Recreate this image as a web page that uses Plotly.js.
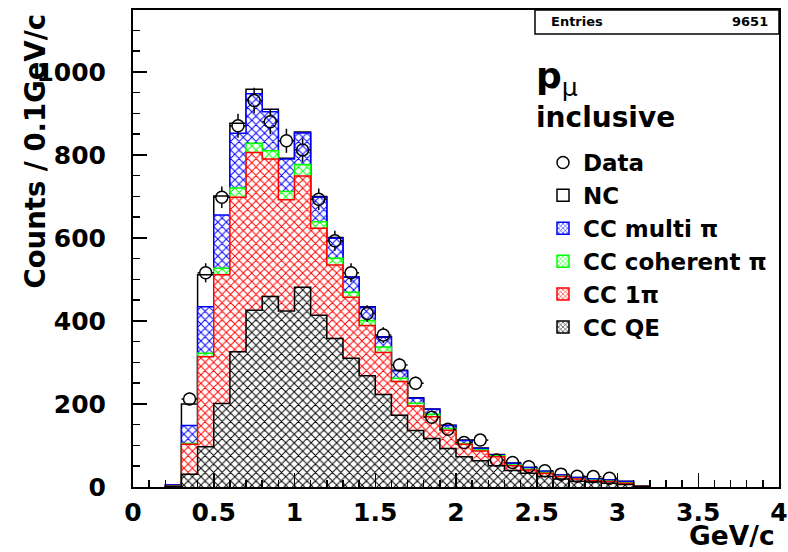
<!DOCTYPE html>
<html><head><meta charset="utf-8">
<script src="https://cdn.plot.ly/plotly-3.0.1.min.js"></script>
<style>body{margin:0;background:#fff;}</style>
</head><body>
<div id="chart" style="width:788px;height:552px;"></div>
<script>
// ---- data (bin lower edges, width 0.1 GeV/c) ----
const binLow = [0.2,0.3,0.4,0.5,0.6,0.7,0.8,0.9,1.0,1.1,1.2,1.3,1.4,1.5,1.6,1.7,1.8,1.9,2.0,2.1,2.2,2.3,2.4,2.5,2.6,2.7,2.8,2.9,3.0,3.1];
const ccQE      = [1,31,97,201,326,426,459,424,481,414,358,310,268,223,173,136,117,93,73,63,51,40,33,25,19,14,12,9,6,1];
const cc1pi     = [1,72,217,310,372,380,331,268,268,209,177,147,121,101,81,59,52,44,30,24,22,11,8,8,6,5,3,4,3,1];
const ccCohPi   = [0,2,8,16,22,22,20,20,28,16,16,12,12,13,8,7,6,4,2,2,2,2,2,2,1,1,1,1,1,0];
const ccMultiPi = [3,43,112,128,132,119,94,78,76,59,48,36,32,24,18,12,12,7,7,4,2,4,4,3,3,3,3,3,3,1];
const nc        = [0,52,77,46,24,11,6,2,2,2,2,1,1,1,1,1,1,1,1,1,1,1,0,0,0,0,0,0,1,0];

const dataX   = [0.35,0.45,0.55,0.65,0.75,0.85,0.95,1.05,1.15,1.25,1.35,1.45,1.55,1.65,1.75,1.85,1.95,2.05,2.15,2.25,2.35,2.45,2.55,2.65,2.75,2.85,2.95];
const dataY   = [212,516,698,870,931,880,834,812,693,593,516,418,366,294,250,168,139,107,113,65,59,49,39,31,26,25,21];
const dataErr = [15,23,26,29,31,30,29,28,26,24,23,20,19,17,16,13,12,10,11,8,8,7,6,6,5,5,5];

const entries = '9651';
const binWidth = 0.1;

// ---- layout geometry ----
const M = {l:133, r:9, t:10, b:65};
const W = 788, H = 552;
const xRange = [0,4], yRange = [0,1149];
const plotW = W - M.l - M.r, plotH = H - M.t - M.b;
const FONT = 'DejaVu Sans, Liberation Sans, Arial, sans-serif';

// cumulative stacks
function cum(...arrs){ return arrs[0].map((_,i)=>arrs.reduce((s,a)=>s+a[i],0)); }
const sQE    = cum(ccQE);
const s1pi   = cum(ccQE, cc1pi);
const sCoh   = cum(ccQE, cc1pi, ccCohPi);
const sMulti = cum(ccQE, cc1pi, ccCohPi, ccMultiPi);
const sNC    = cum(ccQE, cc1pi, ccCohPi, ccMultiPi, nc);

function stepTrace(vals, lineColor, patColor){
  const n = binLow.length;
  const xs = [binLow[0]], ys = [0];
  for (let i=0;i<n;i++){ xs.push(binLow[i]); ys.push(vals[i]); }
  const xEnd = binLow[n-1] + binWidth;
  xs.push(xEnd); ys.push(vals[n-1]);
  xs.push(xEnd); ys.push(0);
  const t = {
    type:'scatter', mode:'lines', x:xs, y:ys,
    line:{shape:'hv', color:lineColor, width:1.5},
    fill:'tozeroy', fillcolor:'white', showlegend:false, hoverinfo:'skip'
  };
  if (patColor) t.fillpattern = {shape:'x', fgcolor:patColor, bgcolor:'white', size:6, solidity:0.3};
  return t;
}

const traces = [
  stepTrace(sNC, 'black', null),
  stepTrace(sMulti, '#0000ff', '#0000ff'),
  stepTrace(sCoh, '#00ff00', '#00ff00'),
  stepTrace(s1pi, '#ff0000', '#ff0000'),
  stepTrace(sQE, 'black', 'black')
];

// error bars with a gap for the open marker (ROOT style)
const rPx = 6;
const rx = rPx*(xRange[1]-xRange[0])/plotW;
const ry = rPx*(yRange[1]-yRange[0])/plotH;
const ex=[], ey=[];
dataX.forEach((x,i)=>{
  const y = dataY[i], e = dataErr[i];
  if (e > ry){ ex.push(x,x,null,x,x,null); ey.push(y+ry,y+e,null,y-ry,y-e,null); }
  ex.push(x-binWidth/2, x-rx, null, x+rx, x+binWidth/2, null);
  ey.push(y,y,null,y,y,null);
});
traces.push({type:'scatter', mode:'lines', x:ex, y:ey, line:{color:'black', width:1.5},
  showlegend:false, hoverinfo:'skip'});
traces.push({type:'scatter', mode:'markers', name:'Data', x:dataX, y:dataY, legendrank:1,
  marker:{symbol:'circle-open', size:12, color:'black', line:{width:1.5}}});

// legend entries
const legendItems = [
  ['NC','black','white',null],
  ['CC multi π','#0000ff','white','#0000ff'],
  ['CC coherent π','#00ff00','white','#00ff00'],
  ['CC 1π','#ff0000','white','#ff0000'],
  ['CC QE','black','white','black']
];
legendItems.forEach((it,k)=>{
  const m = {color:it[2], line:{color:it[1], width:1.5}};
  if (it[3]) m.pattern = {shape:'x', fgcolor:it[3], bgcolor:'white', size:4, solidity:0.3};
  traces.push({type:'bar', name:it[0], x:[null], y:[null], marker:m, legendrank:k+2});
});

function px2paperX(px){ return (px - M.l)/plotW; }
function px2paperY(py){ return (H - M.b - py)/plotH; }

const axisCommon = {
  showline:true, linewidth:2, linecolor:'black', mirror:true,
  ticks:'inside', ticklen:14, tickwidth:1.5, tickcolor:'black',
  showgrid:false, zeroline:false,
  tickfont:{family:FONT, size:25, color:'black', weight:'bold'}
};

const layout = {
  width:W, height:H, margin:M,
  paper_bgcolor:'white', plot_bgcolor:'white',
  showlegend:true,
  legend:{x:px2paperX(543), y:px2paperY(141), xanchor:'left', yanchor:'top',
    bgcolor:'rgba(0,0,0,0)', borderwidth:0,
    font:{family:FONT, size:23, color:'black', weight:'bold'}},
  xaxis: Object.assign({}, axisCommon, {range:xRange, tick0:0, dtick:0.5,
    ticklabelstandoff:2,
    minor:{ticks:'inside', ticklen:7, dtick:0.1, tick0:0, tickwidth:1.5, tickcolor:'black', showgrid:false}}),
  yaxis: Object.assign({}, axisCommon, {range:yRange, tick0:0, dtick:200,
    ticklabelstandoff:20,
    minor:{ticks:'inside', ticklen:7, dtick:50, tick0:0, tickwidth:1.5, tickcolor:'black', showgrid:false}}),
  shapes:[
    {type:'rect', xref:'paper', yref:'paper', x0:px2paperX(535), x1:1, y0:px2paperY(34), y1:1,
     line:{color:'black', width:1.5}, fillcolor:'white', layer:'above'}
  ],
  annotations:[
    {xref:'paper', yref:'paper', x:px2paperX(35), y:px2paperY(12), xanchor:'center', yanchor:'top',
     textangle:-90, showarrow:false, text:'Counts / 0.1GeV/c',
     font:{family:FONT, size:27.5, color:'black', weight:'bold'}},
    {xref:'paper', yref:'paper', x:px2paperX(777), y:px2paperY(535), xanchor:'right', yanchor:'middle',
     showarrow:false, text:'GeV/c', font:{family:FONT, size:26.5, color:'black', weight:'bold'}},
    {xref:'paper', yref:'paper', x:px2paperX(549), y:px2paperY(22), xanchor:'left', yanchor:'middle',
     showarrow:false, text:'Entries', font:{family:FONT, size:13, color:'black', weight:'bold'}},
    {xref:'paper', yref:'paper', x:px2paperX(770), y:px2paperY(22), xanchor:'right', yanchor:'middle',
     showarrow:false, text:entries, font:{family:FONT, size:13, color:'black', weight:'bold'}},
    {xref:'paper', yref:'paper', x:px2paperX(534), y:px2paperY(78), xanchor:'left', yanchor:'middle',
     showarrow:false, text:'p<sub><span style="font-weight:normal">μ</span></sub>',
     font:{family:FONT, size:36, color:'black', weight:'bold'}},
    {xref:'paper', yref:'paper', x:px2paperX(534), y:px2paperY(117), xanchor:'left', yanchor:'middle',
     showarrow:false, text:'inclusive', font:{family:FONT, size:28, color:'black', weight:'bold'}}
  ]
};

Plotly.newPlot('chart', traces, layout, {staticPlot:true, displayModeBar:false});
</script>
</body></html>
